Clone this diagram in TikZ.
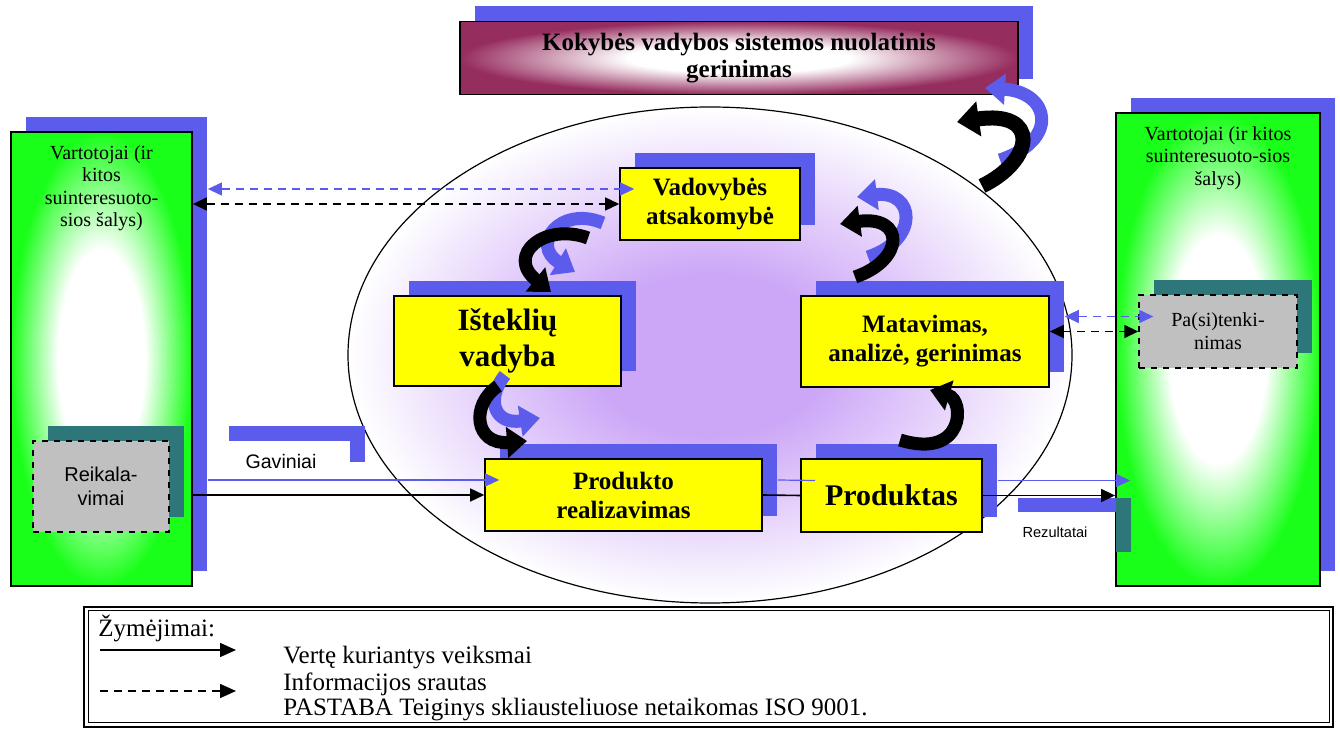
\documentclass[tikz,border=0pt]{standalone}
\usepackage{fontspec}
\setmainfont{Liberation Serif}
\newfontfamily\arialfont{Liberation Sans}
\usetikzlibrary{positioning,shapes.geometric,shadows,arrows.meta}

\definecolor{ghostblue}{RGB}{92,92,236}
\definecolor{tealshade}{RGB}{45,118,122}
\definecolor{vivid}{RGB}{25,255,25}
\definecolor{lilac}{RGB}{204,166,247}
\definecolor{plum}{RGB}{150,45,95}
\definecolor{lemon}{RGB}{255,255,0}
\definecolor{pebble}{RGB}{192,192,192}

\pgfdeclareradialshading{hubglow}{\pgfpoint{0bp}{0bp}}{color(0bp)=(lilac); color(8bp)=(lilac); color(25bp)=(white); color(50bp)=(white)}
\pgfdeclareradialshading{sideglow}{\pgfpoint{0bp}{0bp}}{color(0bp)=(white); color(12bp)=(white); color(25bp)=(vivid); color(50bp)=(vivid)}
\pgfdeclareradialshading{plumglow}{\pgfpoint{0bp}{0bp}}{color(0bp)=(white); color(10bp)=(white); color(25bp)=(plum); color(50bp)=(plum)}

\begin{document}
\begin{tikzpicture}[x=0.5pt, y=-0.5pt,
        >={Triangle[length=7pt,width=6.5pt]},
        ghost/.style={drop shadow={shadow xshift=7.5pt, shadow yshift=7.5pt, fill=ghostblue, opacity=1}},
        process/.style={rectangle, draw=black, line width=0.8pt, fill=lemon, align=center, inner sep=1pt, font=\bfseries\fontsize{12.5}{14.5}\selectfont, ghost},
        side/.style={rectangle, draw=black, line width=0.9pt, shade, shading=sideglow, ghost},
        sidetext/.style={align=center, inner sep=0pt, font=\fontsize{10}{11.2}\selectfont},
        cutbox/.style={rectangle, draw=black, dashed, line width=0.7pt, fill=pebble, align=center, drop shadow={shadow xshift=7.5pt, shadow yshift=7.5pt, fill=tealshade, opacity=1}},
        note/.style={inner sep=0pt, font=\arialfont\fontsize{9.8}{11}\selectfont},
        flow/.style={line width=0.8pt},
        info/.style={line width=0.8pt, dash pattern=on 4pt off 3pt},
        echo/.style={draw=ghostblue, line width=0.6pt, transform canvas={xshift=7.5pt, yshift=7.5pt}},
        turn/.style={line width=6.5pt, -{Triangle[length=10pt,width=15pt]}},
        legtext/.style={anchor=west, inner sep=0pt, font=\fontsize{12.5}{13}\selectfont}
    ]
    \useasboundingbox (0,0) rectangle (1340,732);

    % inner process ring
    \node[ellipse, draw=black, line width=0.6pt, shade, shading=hubglow, minimum width=362pt, minimum height=248pt, inner sep=0pt] (hub) at (710,355) {};

    % top: continual improvement
    \node[rectangle, draw=black, line width=0.9pt, shade, shading=plumglow, ghost, minimum width=279pt, minimum height=36.5pt, align=center, font=\bfseries\fontsize{12.5}{13.5}\selectfont] (improve) at (739,58) {Kokybės vadybos sistemos nuolatinis\\gerinimas};

    % customers
    \node[side, minimum width=90.5pt, minimum height=227pt] (cl) at (101.5,359) {};
    \node[sidetext, below=7pt of cl.north] (cltext) {Vartotojai (ir\\kitos\\suinteresuoto-\\sios šalys)};
    \node[side, minimum width=102pt, minimum height=236.5pt] (cr) at (1218,349.5) {};
    \node[sidetext, below=7pt of cr.north] (crtext) {Vartotojai (ir kitos\\suinteresuoto-sios\\šalys)};
    \node[cutbox, minimum width=68pt, minimum height=45.5pt, font=\arialfont\fontsize{10}{12}\selectfont] (req) at (101,486.5) {Reikala-\\vimai};
    \node[cutbox, minimum width=79pt, minimum height=36.5pt, font=\fontsize{10}{11.5}\selectfont] (sat) at (1218,331.5) {Pa(si)tenki-\\nimas};

    % processes
    \node[process, minimum width=90pt, minimum height=36pt] (vad) at (710,204) {Vadovybės\\atsakomybė};
    \node[process, minimum width=113.5pt, minimum height=45pt, font=\bfseries\fontsize{15.5}{18}\selectfont] (ist) at (507.5,341) {Išteklių\\vadyba};
    \node[process, minimum width=124pt, minimum height=45.5pt] (mat) at (925,341.5) {Matavimas,\\analizė, gerinimas};
    \node[process, minimum width=138.5pt, minimum height=36pt] (real) at (623.5,495) {Produkto\\realizavimas};
    \node[process, minimum width=90.5pt, minimum height=36.5pt, font=\bfseries\fontsize{15}{17}\selectfont] (prod) at (891.5,495.5) {Produktas};

    % label shadows
    \fill[ghostblue] (229,426) rectangle (365,441);
    \fill[ghostblue] (350,441) rectangle (365,462);
    \fill[ghostblue] (1018,498) rectangle (1116,512);
    \fill[tealshade] (1116,498) rectangle (1131,552);
    \node[note] (gav) at (281,461) {Gaviniai};
    \node[note, font=\arialfont\fontsize{7.3}{9}\selectfont] (rez) at (1055,532) {Rezultatai};

    % straight connectors
    \draw[echo, dash pattern=on 4pt off 3pt, <->] (vad.west -| cl.east) -- (vad.west);
    \draw[info, <->] (vad.west -| cl.east) -- (vad.west);
    \draw[echo, dash pattern=on 4pt off 3pt, <->] (sat.west -| mat.east) -- (sat.west);
    \draw[info, <->] (sat.west -| mat.east) -- (sat.west);
    \draw[echo, ->] (real.west -| cl.east) -- (real.west);
    \draw[flow, ->] (real.west -| cl.east) -- (real.west);
    \draw[echo] (real.east) -- (prod.west);
    \draw[flow] (real.east) -- (prod.west);
    \draw[echo, ->] (prod.east) -- (prod.east -| cr.west);
    \draw[flow, ->] (prod.east) -- (prod.east -| cr.west);

    % curved arrows (shadows first)
    \draw[turn, ghostblue] (1000,160) .. controls (1060,140) and (1050,92) .. (985,88);
    \draw[turn, line width=7.5pt, -{Triangle[length=11pt,width=17pt]}] (982,186) .. controls (1035,160) and (1040,110) .. (957,122);
    \draw[turn, ghostblue] (603,223) .. controls (560,205) and (530,245) .. (575,272);
    \draw[turn] (588,238) .. controls (545,222) and (505,255) .. (551,292);
    \draw[turn, ghostblue] (868,257) .. controls (920,240) and (915,190) .. (857,197);
    \draw[turn] (855,277) .. controls (905,260) and (905,215) .. (840,224);
    \draw[turn, ghostblue] (505,375) .. controls (485,400) and (495,425) .. (540,418);
    \draw[turn] (498,386) .. controls (470,405) and (475,445) .. (527,441);
    \draw[turn] (900,440) .. controls (965,460) and (965,400) .. (930,390);

    % legend
    \draw[line width=1.3pt] (84,607) rectangle (1333,727);
    \draw[line width=0.5pt] (88,611) rectangle (1329,723);
    \node[legtext] (legtitle) at (98,628) {Žymėjimai:};
    \node[legtext] (legvalue) at (283,658) {Vertę kuriantys veiksmai};
    \node[legtext] (leginfo) at (283,684) {Informacijos srautas};
    \node[legtext] (legnote) at (283,710) {PASTABA Teiginys skliausteliuose netaikomas ISO 9001.};
    \coordinate (vs) at (100,650);
    \coordinate (ve) at (236,650);
    \coordinate (is) at (100,691);
    \coordinate (ie) at (236,691);
    \draw[flow, -{Triangle[length=8pt,width=7pt]}] (vs) -- (ve);
    \draw[info, -{Triangle[length=8pt,width=7pt]}] (is) -- (ie);
\end{tikzpicture}
\end{document}
